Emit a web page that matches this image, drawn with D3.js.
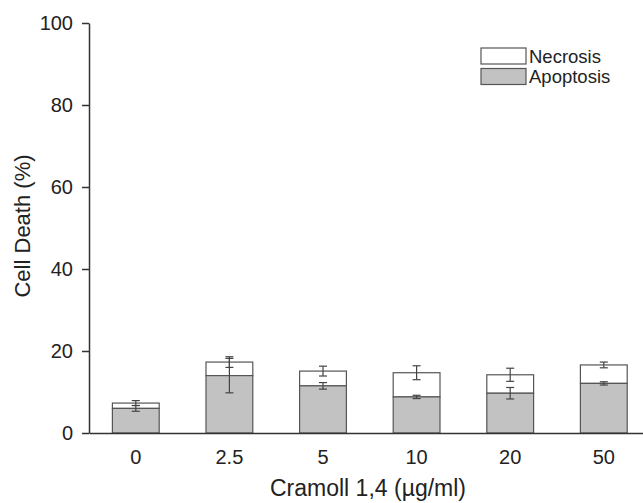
<!DOCTYPE html>
<html>
<head>
<meta charset="utf-8">
<script src="https://d3js.org/d3.v7.min.js"></script>
<style>
  body { margin: 0; background: #fff; }
  text { font-family: "Liberation Sans", Arial, sans-serif; fill: #222; }
</style>
</head>
<body>
<div id="chart"></div>
<script>
// concentrations of Cramoll 1,4 (ug/ml)
var categories = ["0", "2.5", "5", "10", "20", "50"];
// apoptosis and necrosis share of dead cells (%), stacked
var apoptosis = [6.0, 14.0, 11.5, 8.8, 9.7, 12.1];
var apoptosisErr = [0.7, 4.2, 0.8, 0.4, 1.4, 0.4];
var necrosis = [1.3, 3.3, 3.6, 5.9, 4.5, 4.5];
var necrosisErr = [0.6, 1.3, 1.2, 1.7, 1.6, 0.7];
var yTicks = [0, 20, 40, 60, 80, 100];

var width = 643, height = 503;
var margin = { top: 23, left: 89, bottom: 70 };

var svg = d3.select("#chart")
  .append("svg")
  .attr("width", width)
  .attr("height", height);

var x = d3.scaleBand()
  .domain(categories)
  .range([margin.left, 650.6])
  .paddingInner(0.5)
  .paddingOuter(0.25);

var y = d3.scaleLinear()
  .domain([0, 100])
  .range([433, margin.top]);

var data = categories.map(function (c, i) {
  return {
    cat: c,
    apo: apoptosis[i], apoErr: apoptosisErr[i],
    nec: necrosis[i], necErr: necrosisErr[i]
  };
});

// necrosis sits on top of apoptosis
svg.selectAll(".nec")
  .data(data)
  .enter().append("rect")
  .attr("class", "nec")
  .attr("x", function (d) { return x(d.cat); })
  .attr("y", function (d) { return y(d.apo + d.nec); })
  .attr("width", x.bandwidth())
  .attr("height", function (d) { return y(d.apo) - y(d.apo + d.nec); })
  .attr("fill", "#fff")
  .attr("stroke", "#555")
  .attr("stroke-width", 1.2);

svg.selectAll(".apo")
  .data(data)
  .enter().append("rect")
  .attr("class", "apo")
  .attr("x", function (d) { return x(d.cat); })
  .attr("y", function (d) { return y(d.apo); })
  .attr("width", x.bandwidth())
  .attr("height", function (d) { return y(0) - y(d.apo); })
  .attr("fill", "#c2c2c2")
  .attr("stroke", "#555")
  .attr("stroke-width", 1.2);

// error bars
function errBars(cls, top, err) {
  var g = svg.selectAll("." + cls)
    .data(data)
    .enter().append("g")
    .attr("class", cls)
    .attr("stroke", "#444")
    .attr("stroke-width", 1.2);
  var cx = function (d) { return x(d.cat) + x.bandwidth() / 2; };
  g.append("line")
    .attr("x1", cx).attr("x2", cx)
    .attr("y1", function (d) { return y(top(d) - err(d)); })
    .attr("y2", function (d) { return y(top(d) + err(d)); });
  [-1, 1].forEach(function (s) {
    g.append("line")
      .attr("x1", function (d) { return cx(d) - 4; })
      .attr("x2", function (d) { return cx(d) + 4; })
      .attr("y1", function (d) { return y(top(d) + s * err(d)); })
      .attr("y2", function (d) { return y(top(d) + s * err(d)); });
  });
}
errBars("errApo", function (d) { return d.apo; }, function (d) { return d.apoErr; });
errBars("errNec", function (d) { return d.apo + d.nec; }, function (d) { return d.necErr; });

// axes
var yAxis = svg.append("g")
  .attr("transform", "translate(" + margin.left + ",0)")
  .call(d3.axisLeft(y).tickValues(yTicks).tickSize(7).tickPadding(9).tickSizeOuter(0));
yAxis.selectAll("text").style("font-size", "20px");

var xAxis = svg.append("g")
  .attr("transform", "translate(0," + y(0) + ")")
  .call(d3.axisBottom(x).tickSize(0).tickPadding(17));
xAxis.selectAll("text").style("font-size", "20px");

svg.selectAll(".domain, .tick line")
  .attr("stroke", "#333")
  .attr("stroke-width", 1.5);

// axis titles
svg.append("text")
  .attr("x", 368)
  .attr("y", 496)
  .attr("text-anchor", "middle")
  .style("font-size", "23px")
  .text("Cramoll 1,4 (µg/ml)");

svg.append("text")
  .attr("transform", "translate(30,226) rotate(-90)")
  .attr("text-anchor", "middle")
  .style("font-size", "22px")
  .text("Cell Death (%)");

// legend
var legendItems = [
  { name: "Necrosis", fill: "#fff" },
  { name: "Apoptosis", fill: "#c2c2c2" }
];
var legend = svg.append("g").attr("transform", "translate(481,48)");
legend.selectAll("rect")
  .data(legendItems)
  .enter().append("rect")
  .attr("x", 0)
  .attr("y", function (d, i) { return i * 20.5; })
  .attr("width", 45)
  .attr("height", 16)
  .attr("fill", function (d) { return d.fill; })
  .attr("stroke", "#555")
  .attr("stroke-width", 1.2);
legend.selectAll("text")
  .data(legendItems)
  .enter().append("text")
  .attr("x", 48)
  .attr("y", function (d, i) { return i * 20.5 + 14.5; })
  .style("font-size", "18.5px")
  .text(function (d) { return d.name; });
</script>
</body>
</html>
